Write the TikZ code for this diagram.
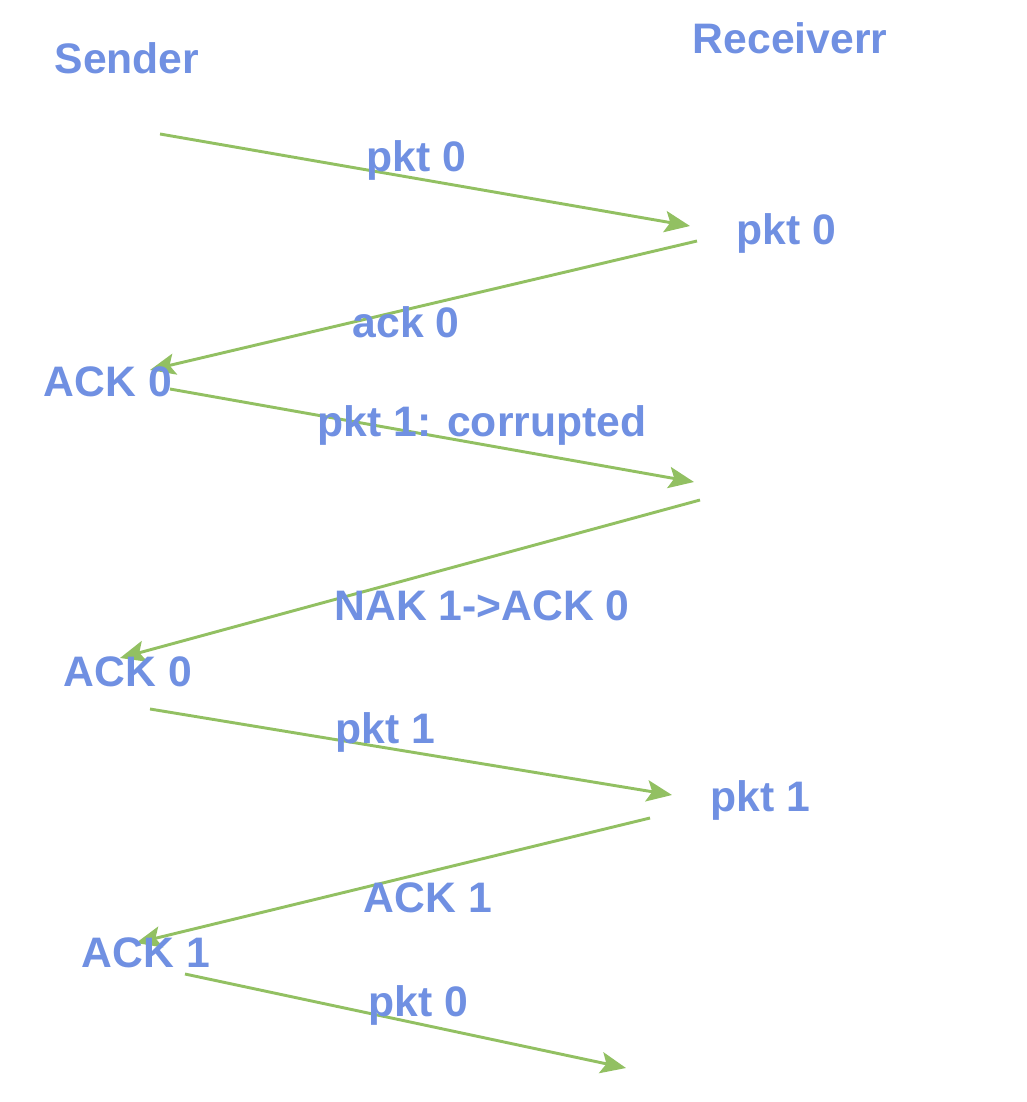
\documentclass[tikz,border=0pt]{standalone}
\usepackage{fontspec}
\setmainfont{Liberation Sans}
\usetikzlibrary{arrows.meta}
\definecolor{lblblue}{RGB}{112,144,226}
\definecolor{msggreen}{RGB}{146,192,98}
\tikzset{
  lbl/.style={text=lblblue, font=\fontsize{32}{37}\selectfont\bfseries, inner sep=0pt},
  msg/.style={draw=msggreen, line width=2.2pt, -{Stealth[length=19pt,width=16pt,inset=4pt]}}
}

\begin{document}
\begin{tikzpicture}[x=0.75pt,y=-0.75pt]
\useasboundingbox (0,0) rectangle (1026,1102);
\node[lbl] (snd) at (127,58) {Sender};
\node[lbl] (rcv) at (790,38) {Receiverr};
% sender side
\coordinate (s1) at (160,134);
\coordinate (s2) at (150,370);
\coordinate (s3) at (170,389);
\coordinate (s4) at (120,658);
\coordinate (s5) at (150,709);
\coordinate (s6) at (136,943);
\coordinate (s7) at (185,974);
% receiver side
\coordinate (r1) at (690,226);
\coordinate (r2) at (697,241);
\coordinate (r3) at (694,482);
\coordinate (r4) at (700,500);
\coordinate (r5) at (672,795);
\coordinate (r6) at (650,818);
\coordinate (r7) at (626,1068);
\draw[msg] (s1) -- (r1);
\draw[msg] (r2) -- (s2);
\draw[msg] (s3) -- (r3);
\draw[msg] (r4) -- (s4);
\draw[msg] (s5) -- (r5);
\draw[msg] (r6) -- (s6);
\draw[msg] (s7) -- (r7);
\node[lbl] (m1) at (416,160) {pkt 0};
\node[lbl] (rp0) at (786,233) {pkt 0};
\node[lbl] (m2) at (406,322) {ack 0};
\node[lbl] (sa0) at (108,382) {ACK 0};
\node[lbl] (m3) at (482,425) {pkt 1: corrupted};
\node[lbl] (m4) at (482,606) {NAK 1->ACK 0};
\node[lbl] (sa0b) at (128,672) {ACK 0};
\node[lbl] (m5) at (385,732) {pkt 1};
\node[lbl] (rp1) at (760,800) {pkt 1};
\node[lbl] (m6) at (428,898) {ACK 1};
\node[lbl] (sa1) at (146,953) {ACK 1};
\node[lbl] (m7) at (418,1005) {pkt 0};
\end{tikzpicture}
\end{document}
